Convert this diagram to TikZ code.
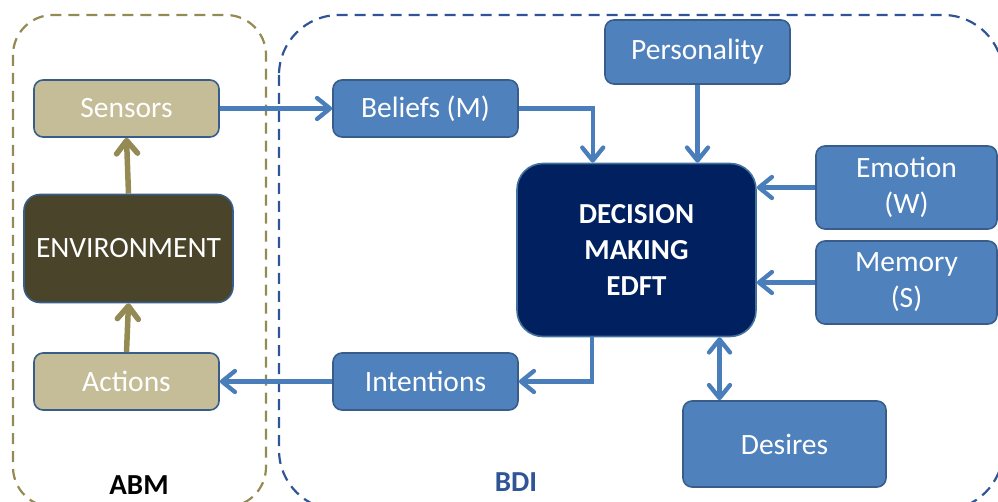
\documentclass[tikz,border=0pt]{standalone}
\usepackage{fontspec}
\setmainfont{Carlito}
\usetikzlibrary{arrows.meta,calc}
\definecolor{bluefill}{HTML}{4F81BD}
\definecolor{blueborder}{HTML}{385D8A}
\definecolor{bluearrow}{HTML}{4A7EBB}
\definecolor{tanfill}{HTML}{C4BD97}
\definecolor{tanarrow}{HTML}{948A54}
\definecolor{envfill}{HTML}{4A442A}
\definecolor{navy}{HTML}{002060}
\definecolor{bdiblue}{HTML}{2F5597}
\definecolor{dmborder}{HTML}{41719C}
\tikzset{
  box/.style={draw=blueborder, line width=1.6pt, rounded corners=9pt, text=white,
    font=\fontsize{29.5}{36}\selectfont, align=center, inner sep=0pt},
  bluebox/.style={box, fill=bluefill},
  tanbox/.style={box, fill=tanfill},
  barb/.tip={Straight Barb[length=13pt,width=21pt,line cap=round,line join=round]},
  barrow/.style={draw=bluearrow, line width=4.3pt, -barb},
  bdarrow/.style={draw=bluearrow, line width=4.3pt, barb-barb},
  tarrow/.style={draw=tanarrow, line width=5.5pt, -barb},
  region/.style={line width=2.2pt, dash pattern=on 11pt off 7pt},
  biglabel/.style={font=\bfseries\fontsize{29}{34}\selectfont, inner sep=0pt}
}
\begin{document}
\begin{tikzpicture}[x=1pt,y=-1pt]
\useasboundingbox (0,0) rectangle (998,502);
\begin{scope}
\clip (0,0) rectangle (998,502);
\draw[region, draw=tanarrow, rounded corners=40pt] (13,15) rectangle (266,507);
\draw[region, draw=bdiblue, rounded corners=60pt] (279,15) rectangle (1003,510);
\end{scope}

\node[tanbox, minimum width=185pt, minimum height=57pt] (sen) at (126.5,108.5) {Sensors};
\node[box, fill=envfill, rounded corners=16pt, minimum width=209pt, minimum height=108pt] (env) at (128.5,248.5) {ENVIRONMENT};
\node[tanbox, minimum width=185pt, minimum height=57pt] (act) at (126.5,381.5) {Actions};

\node[bluebox, minimum width=185pt, minimum height=57pt] (bel) at (425.5,108.5) {Beliefs (M)};
\node[bluebox, minimum width=185pt, minimum height=64pt] (per) at (697.5,52) {Personality};
\node[bluebox, minimum width=185pt, minimum height=57pt] (int) at (425.5,381.5) {Intentions};
\node[box, fill=navy, draw=dmborder, rounded corners=26pt, minimum width=239pt, minimum height=173pt,
  font=\bfseries\fontsize{29}{36}\selectfont] (dm) at (636.5,250) {DECISION\\MAKING\\EDFT};
\node[bluebox, minimum width=181pt, minimum height=83pt] (emo) at (906.5,187.5) {Emotion\\(W)};
\node[bluebox, minimum width=181pt, minimum height=83pt] (mem) at (906.5,282.5) {Memory\\(S)};
\node[bluebox, minimum width=203pt, minimum height=86pt, text width=185pt] (des) at (784.5,444) {Desires};

\node[biglabel, text=black] (abm) at (139,485) {ABM};
\node[biglabel, text=bdiblue] (bdi) at (516,482) {BDI};

\coordinate (bin) at ($(dm.north west)!0.318!(dm.north east)$);
\coordinate (iout) at ($(dm.south west)!0.314!(dm.south east)$);
\coordinate (dd) at ($(dm.south west)!0.845!(dm.south east)$);

\draw[tarrow] (env.north) -- (sen.south);
\draw[tarrow] (act.north) -- (env.south);
\draw[barrow] (sen.east) -- (bel.west);
\draw[barrow] (bel.east) -| (bin);
\draw[barrow] (per.south) -- (per.south |- dm.north);
\draw[barrow] (emo.west) -- (emo.west -| dm.east);
\draw[barrow] (mem.west) -- (mem.west -| dm.east);
\draw[barrow] (iout) |- (int.east);
\draw[barrow] (int.west) -- (act.east);
\draw[bdarrow] (dd) -- (dd |- des.north);
\end{tikzpicture}
\end{document}
